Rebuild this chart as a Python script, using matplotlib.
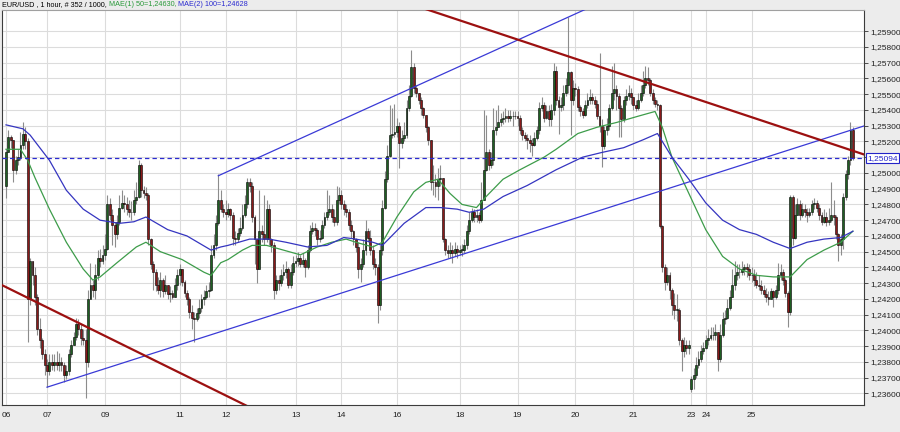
import numpy as np
import matplotlib
matplotlib.use("Agg")
import matplotlib.pyplot as plt
from matplotlib.ticker import FixedLocator, FuncFormatter
from matplotlib.transforms import blended_transform_factory

plt.rcParams["font.family"] = ["Liberation Sans", "DejaVu Sans"]

# --- EUR/USD 1h bars, values in pips (2513 -> 1,2513) ---
first_open = 2492
gap_opens = {284: 2363}

close_pips = [
    2513, 2523, 2521, 2502, 2508, 2510, 2518, 2525, 2520, 2420,
    2444, 2435, 2421, 2401, 2394, 2385, 2378, 2374, 2380, 2378,
    2380, 2378, 2380, 2378, 2372, 2374, 2385, 2391, 2396, 2404,
    2401, 2395, 2394, 2380, 2420, 2429, 2426, 2435, 2446, 2444,
    2448, 2452, 2480, 2473, 2467, 2461, 2469, 2478, 2481, 2480,
    2477, 2475, 2475, 2483, 2485, 2505, 2489, 2487, 2486, 2458,
    2442, 2437, 2429, 2426, 2432, 2425, 2429, 2423, 2424, 2421,
    2429, 2435, 2439, 2431, 2424, 2420, 2412, 2408, 2407, 2411,
    2414, 2420, 2421, 2425, 2426, 2448, 2454, 2468, 2483, 2477,
    2475, 2474, 2477, 2473, 2459, 2458, 2462, 2465, 2473, 2480,
    2494, 2492, 2472, 2458, 2439, 2463, 2461, 2458, 2477, 2458,
    2454, 2426, 2432, 2430, 2435, 2437, 2439, 2429, 2437, 2443,
    2444, 2446, 2442, 2445, 2440, 2451, 2463, 2465, 2464, 2458,
    2459, 2467, 2472, 2475, 2477, 2472, 2469, 2483, 2486, 2480,
    2477, 2475, 2467, 2463, 2458, 2453, 2439, 2442, 2451, 2463,
    2459, 2451, 2442, 2440, 2416, 2451, 2478, 2496, 2511, 2524,
    2525, 2526, 2530, 2519, 2522, 2524, 2541, 2549, 2567, 2554,
    2551, 2546, 2541, 2537, 2529, 2521, 2494, 2494, 2492, 2496,
    2497, 2458, 2451, 2449, 2451, 2449, 2452, 2450, 2451, 2451,
    2454, 2463, 2470, 2475, 2472, 2473, 2470, 2483, 2502, 2513,
    2505, 2508, 2527, 2529, 2532, 2534, 2535, 2536, 2535, 2536,
    2536, 2536, 2535, 2527, 2524, 2522, 2521, 2519, 2518, 2522,
    2527, 2541, 2543, 2535, 2539, 2534, 2540, 2565, 2546, 2542,
    2543, 2551, 2556, 2564, 2546, 2554, 2553, 2542, 2539, 2537,
    2543, 2546, 2548, 2546, 2544, 2536, 2530, 2517, 2527, 2530,
    2541, 2551, 2553, 2549, 2541, 2534, 2546, 2549, 2551, 2548,
    2543, 2541, 2546, 2551, 2556, 2560, 2559, 2551, 2546, 2544,
    2543, 2466, 2440, 2431, 2435, 2426, 2416, 2413, 2413, 2394,
    2387, 2391, 2389, 2391, 2369, 2372, 2378, 2382, 2387, 2389,
    2394, 2395, 2397, 2397, 2399, 2382, 2397, 2407, 2408, 2414,
    2421, 2429, 2435, 2437, 2437, 2439, 2440, 2439, 2435, 2435,
    2432, 2429, 2428, 2426, 2423, 2421, 2420, 2425, 2421, 2426,
    2435, 2437, 2432, 2424, 2412, 2485, 2459, 2473, 2480, 2473,
    2477, 2475, 2473, 2475, 2480, 2481, 2478, 2473, 2469, 2472,
    2469, 2470, 2473, 2472, 2461, 2454, 2458, 2485, 2499, 2508,
    2527, 2509.4,
]

high_pips = [
    2515, 2527, 2524, 2521, 2511, 2515, 2526, 2532, 2529, 2522,
    2446, 2444, 2440, 2423, 2408, 2395, 2388, 2382, 2385, 2385,
    2385, 2387, 2386, 2383, 2380, 2378, 2388, 2394, 2399, 2408,
    2407, 2404, 2401, 2401, 2426, 2443, 2432, 2442, 2451, 2452,
    2454, 2461, 2486, 2484, 2477, 2469, 2473, 2486, 2489, 2486,
    2485, 2483, 2482, 2489, 2494, 2508, 2506, 2492, 2491, 2487,
    2459, 2444, 2439, 2434, 2437, 2433, 2435, 2429, 2428, 2426,
    2433, 2439, 2442, 2439, 2432, 2426, 2421, 2416, 2412, 2414,
    2420, 2423, 2426, 2429, 2431, 2454, 2461, 2473, 2499, 2489,
    2480, 2483, 2481, 2478, 2475, 2463, 2465, 2472, 2480, 2486,
    2497, 2497, 2494, 2473, 2458, 2489, 2467, 2486, 2483, 2480,
    2459, 2456, 2435, 2435, 2439, 2442, 2444, 2440, 2442, 2447,
    2448, 2450, 2448, 2449, 2446, 2454, 2467, 2469, 2468, 2465,
    2464, 2470, 2475, 2489, 2486, 2480, 2477, 2492, 2491, 2489,
    2483, 2480, 2477, 2470, 2464, 2459, 2456, 2446, 2458, 2470,
    2465, 2464, 2454, 2446, 2442, 2454, 2483, 2501, 2518, 2543,
    2541, 2544, 2535, 2532, 2527, 2532, 2546, 2556, 2578, 2570,
    2556, 2551, 2548, 2542, 2537, 2530, 2521, 2505, 2499, 2503,
    2505, 2497, 2459, 2454, 2456, 2454, 2456, 2454, 2454, 2455,
    2458, 2467, 2475, 2478, 2477, 2477, 2475, 2494, 2540, 2537,
    2515, 2513, 2541, 2540, 2543, 2538, 2539, 2541, 2540, 2540,
    2539, 2539, 2539, 2537, 2529, 2526, 2525, 2524, 2522, 2526,
    2530, 2545, 2548, 2545, 2543, 2543, 2544, 2570, 2568, 2549,
    2548, 2556, 2560, 2599, 2565, 2559, 2557, 2555, 2543, 2541,
    2546, 2551, 2553, 2551, 2549, 2546, 2576, 2534, 2530, 2535,
    2544, 2568, 2570, 2556, 2551, 2543, 2549, 2553, 2556, 2554,
    2548, 2546, 2551, 2556, 2565, 2568, 2567, 2560, 2553, 2548,
    2546, 2544, 2467, 2442, 2440, 2437, 2427, 2424, 2423, 2414,
    2395, 2396, 2394, 2394, 2371, 2376, 2383, 2387, 2391, 2393,
    2397, 2401, 2402, 2402, 2404, 2399, 2404, 2412, 2413, 2420,
    2426, 2439, 2444, 2442, 2442, 2444, 2442, 2443, 2442, 2440,
    2439, 2437, 2435, 2432, 2429, 2427, 2425, 2427, 2426, 2429,
    2443, 2442, 2439, 2433, 2425, 2486, 2486, 2480, 2484, 2483,
    2481, 2480, 2478, 2478, 2483, 2484, 2483, 2480, 2475, 2477,
    2475, 2478, 2494, 2483, 2473, 2462, 2461, 2487, 2502, 2511,
    2532, 2529,
]

low_pips = [
    2484, 2513, 2516, 2494, 2499, 2505, 2508, 2515, 2515, 2393,
    2416, 2429, 2416, 2397, 2389, 2382, 2372, 2364, 2372, 2375,
    2374, 2375, 2374, 2374, 2367, 2369, 2372, 2383, 2391, 2394,
    2397, 2391, 2391, 2357, 2377, 2420, 2421, 2420, 2432, 2440,
    2442, 2445, 2451, 2470, 2454, 2453, 2458, 2467, 2477, 2475,
    2473, 2472, 2470, 2473, 2480, 2484, 2485, 2484, 2483, 2454,
    2439, 2426, 2425, 2423, 2421, 2421, 2423, 2420, 2418, 2420,
    2421, 2426, 2429, 2428, 2421, 2416, 2408, 2401, 2393, 2406,
    2408, 2412, 2416, 2420, 2421, 2425, 2446, 2451, 2467, 2475,
    2472, 2470, 2472, 2470, 2454, 2454, 2456, 2460, 2464, 2472,
    2478, 2488, 2469, 2442, 2430, 2444, 2456, 2454, 2456, 2454,
    2450, 2420, 2423, 2426, 2428, 2432, 2433, 2427, 2427, 2435,
    2440, 2441, 2440, 2440, 2434, 2439, 2450, 2461, 2460, 2454,
    2456, 2458, 2465, 2470, 2473, 2469, 2466, 2467, 2480, 2477,
    2473, 2472, 2464, 2459, 2454, 2450, 2433, 2431, 2440, 2448,
    2456, 2448, 2439, 2435, 2405, 2413, 2448, 2477, 2494, 2510,
    2522, 2523, 2523, 2503, 2516, 2520, 2522, 2539, 2548, 2551,
    2548, 2544, 2537, 2535, 2526, 2518, 2489, 2486, 2485, 2483,
    2492, 2456, 2448, 2446, 2446, 2443, 2447, 2446, 2448, 2447,
    2449, 2452, 2461, 2469, 2469, 2469, 2468, 2469, 2492, 2501,
    2502, 2503, 2505, 2524, 2529, 2530, 2531, 2532, 2532, 2533,
    2530, 2534, 2530, 2525, 2521, 2520, 2515, 2513, 2511, 2517,
    2521, 2525, 2539, 2532, 2534, 2530, 2530, 2537, 2543, 2525,
    2539, 2540, 2549, 2551, 2524, 2543, 2549, 2539, 2536, 2535,
    2536, 2541, 2544, 2544, 2541, 2534, 2526, 2504, 2515, 2524,
    2527, 2540, 2546, 2540, 2523, 2523, 2532, 2543, 2546, 2544,
    2540, 2539, 2540, 2545, 2549, 2554, 2556, 2549, 2544, 2542,
    2540, 2465, 2437, 2426, 2429, 2420, 2410, 2407, 2406, 2391,
    2374, 2383, 2385, 2385, 2361, 2363, 2370, 2376, 2380, 2385,
    2388, 2391, 2394, 2394, 2394, 2374, 2380, 2396, 2404, 2407,
    2413, 2421, 2426, 2432, 2433, 2435, 2435, 2434, 2432, 2431,
    2428, 2427, 2426, 2423, 2421, 2418, 2416, 2421, 2415, 2420,
    2423, 2432, 2429, 2421, 2402, 2410, 2454, 2458, 2473, 2470,
    2472, 2472, 2469, 2472, 2473, 2477, 2475, 2470, 2467, 2468,
    2466, 2467, 2469, 2467, 2458, 2444, 2448, 2452, 2483, 2496,
    2505, 2508,
]

# moving averages (bar index, pips)
ma50_idx = [0, 6, 9, 12, 18, 25, 32, 36, 39, 46, 54, 58, 64, 73, 82, 85, 89, 92, 98, 102,
            108, 115, 122, 129, 135, 141, 145, 152, 156, 162, 169, 174, 179, 184, 189, 195, 199, 206, 213, 223,
            228, 237, 245, 253, 262, 269, 272, 276, 283, 290, 297, 304, 311, 318, 325, 332, 339, 346, 351]
ma50_pips = [2515, 2515, 2508, 2497, 2477, 2456, 2439, 2432, 2434, 2443, 2453, 2456, 2450, 2445, 2437, 2435, 2443, 2445, 2451, 2454,
             2454, 2451, 2448, 2453, 2456, 2458, 2456, 2453, 2456, 2472, 2488, 2494, 2496, 2487, 2480, 2478, 2485, 2496, 2502, 2510,
             2515, 2525, 2529, 2532, 2536, 2539, 2529, 2510, 2487, 2464, 2447, 2439, 2435, 2434, 2434, 2445, 2451, 2456, 2463]
ma100_idx = [0, 7, 10, 18, 25, 32, 39, 47, 53, 58, 67, 75, 85, 89, 92, 101, 109, 116, 125, 133,
             140, 145, 152, 156, 165, 174, 180, 187, 192, 198, 206, 216, 228, 239, 247, 256, 264, 270, 276, 283,
             290, 297, 304, 311, 318, 325, 332, 339, 346, 351]
ma100_pips = [2530.5, 2528, 2524, 2508, 2489, 2477, 2470, 2468, 2469, 2472, 2464, 2460, 2451, 2453, 2454, 2458, 2458, 2456, 2453, 2454,
              2459, 2458, 2456, 2454, 2468, 2478, 2478, 2477, 2475, 2477, 2485, 2492, 2502, 2510, 2513, 2516, 2521, 2525, 2510, 2496,
              2481, 2470, 2464, 2461, 2456, 2452, 2456, 2458, 2459, 2463]

# drawn trend lines: (bar, pips) anchor pairs
channel_top = ([88, 262], [2498.2, 2619])
channel_bottom = ([17, 356], [2364, 2530])
resist_line = ([170, 356], [2606, 2511.5])
old_resist = ([-1.7, 100], [2428.8, 2352])
last_price = 1.25094

day_ticks = [0, 17, 41, 72, 91, 120, 139, 162, 188, 212, 236, 260, 284, 290, 309]
day_labels = ["06", "07", "09", "11", "12", "13", "14", "16", "18", "19", "20", "21", "23", "24", "25"]

UP = "#1f5f22"
DOWN = "#8a1a1a"
MA50_C = "#3d9c4a"
MA100_C = "#3535c0"
TL_BLUE = "#3a3ad6"
TL_RED = "#9c1010"


def to_price(p):
    return 1 + np.asarray(p, dtype=float) / 10000


def fmt_price(v, _=None):
    # the 1,25100 label sits under the last-price box
    if abs(v - 1.2510) < 1e-7:
        return ""
    return f"{v:.5f}".replace(".", ",")


close = to_price(close_pips)
high = to_price(high_pips)
low = to_price(low_pips)
n = len(close)
open_ = np.r_[to_price(first_open), close[:-1]]
for k, v in gap_opens.items():
    open_[k] = to_price(v)
high = np.maximum(high, np.maximum(open_, close))
low = np.minimum(low, np.minimum(open_, close))
xs = np.arange(n)

fig = plt.figure(figsize=(9, 4.32), dpi=100, facecolor="#ececec")
ax = fig.add_axes([2 / 900, 27 / 432, 862 / 900, 395 / 432])
ax.set_facecolor("white")

ax.set_xlim(-1.66, 355.6)
ax.set_ylim(1.23527, 1.26034)

# grid
for t in day_ticks:
    ax.axvline(t, color="#dcdcdc", lw=0.8, zorder=0)
yt = np.round(np.arange(1.2360, 1.25901, 0.001), 4)
for v in yt:
    ax.axhline(v, color="#dcdcdc", lw=0.8, zorder=0)

# candles
ax.vlines(xs, low, high, color="#8c8c8c", lw=0.8, zorder=2)
up = close >= open_
bot = np.minimum(open_, close)
hgt = np.maximum(np.abs(close - open_), 0.00004)
ax.bar(xs[up], hgt[up], bottom=bot[up], width=0.78, color=UP, edgecolor="black", lw=0.4, zorder=3)
ax.bar(xs[~up], hgt[~up], bottom=bot[~up], width=0.78, color=DOWN, edgecolor="black", lw=0.4, zorder=3)

# moving averages
ax.plot(ma50_idx, to_price(ma50_pips), color=MA50_C, lw=0.9, zorder=4)
ax.plot(ma100_idx, to_price(ma100_pips), color=MA100_C, lw=0.9, zorder=4)

# trend lines
ax.plot(channel_top[0], to_price(channel_top[1]), color=TL_BLUE, lw=0.9, zorder=5)
ax.plot(channel_bottom[0], to_price(channel_bottom[1]), color=TL_BLUE, lw=0.9, zorder=5)
ax.plot(resist_line[0], to_price(resist_line[1]), color=TL_RED, lw=1.6, zorder=5)
ax.plot(old_resist[0], to_price(old_resist[1]), color=TL_RED, lw=1.6, zorder=5)
ax.axhline(last_price, color="#2b2bd0", lw=0.9, ls=(0, (3.5, 2.5)), zorder=5)

# axes
ax.yaxis.tick_right()
ax.yaxis.set_major_locator(FixedLocator(yt))
ax.yaxis.set_major_formatter(FuncFormatter(fmt_price))
ax.tick_params(axis="y", direction="out", length=3, width=0.6, pad=1.5,
               labelsize=6, colors="#333333", labelcolor="#222222")
ax.set_xticks(day_ticks)
ax.set_xticklabels(day_labels)
ax.tick_params(axis="x", length=0, pad=5, labelsize=6, labelcolor="#222222")
for s in ax.spines.values():
    s.set_color("#3c3c3c")
    s.set_linewidth(0.8)
ax.spines["top"].set_color("#a0a0a0")

tr = blended_transform_factory(ax.transAxes, ax.transData)
ax.text(1.004, last_price, f"{last_price:.5f}".replace(".", ","), transform=tr,
        fontsize=6, color="#2323c8", va="center", ha="left", zorder=6,
        bbox=dict(boxstyle="square,pad=0.15", fc="white", ec="#2323c8", lw=0.8))

# header
t1 = fig.text(0.002, 0.998, "EUR/USD , 1 hour, # 352 / 1000, ", fontsize=5.2, color="black", va="top", ha="left")
t2 = ax.annotate("MAE(1) 50=1,24630, ", xy=(1, 0), xycoords=t1, fontsize=5.2,
                 color="#2a9a3a", va="bottom", ha="left", annotation_clip=False)
t3 = ax.annotate("MAE(2) 100=1,24628", xy=(1, 0), xycoords=t2, fontsize=5.2,
                 color="#2b2bd0", va="bottom", ha="left", annotation_clip=False)

fig.savefig("out.png", dpi=100, facecolor=fig.get_facecolor())
